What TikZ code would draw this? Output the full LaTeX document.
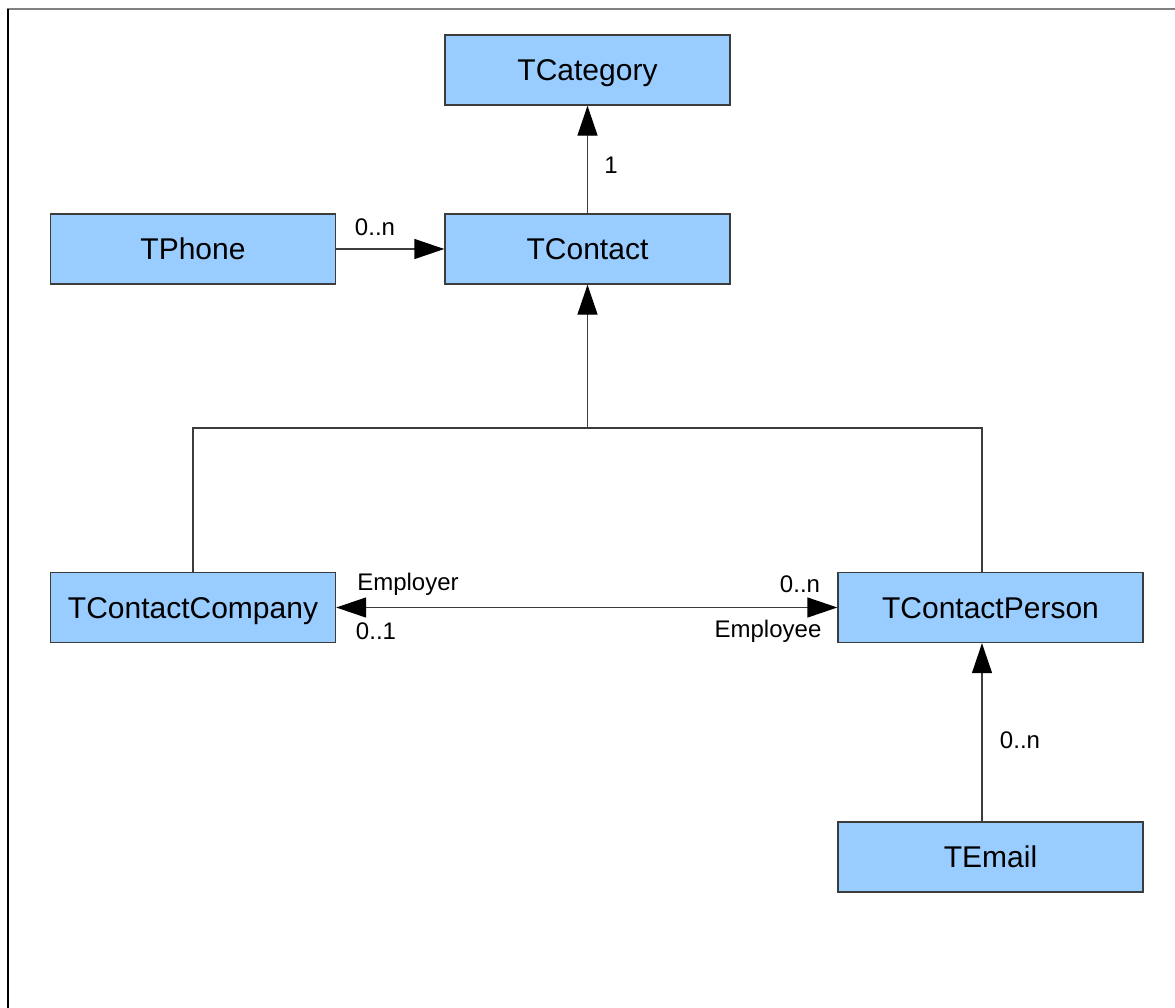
\documentclass[tikz,border=0pt]{standalone}
\usepackage{fontspec}
\setmainfont{Liberation Sans}
\usetikzlibrary{arrows.meta}
\definecolor{classblue}{HTML}{99CCFF}
\definecolor{classedge}{HTML}{3C3C3C}
\begin{document}
\begin{tikzpicture}[x=0.5pt,y=-0.5pt]
   \tikzstyle{cls}=[fill=classblue,draw=classedge,line width=0.7pt,inner sep=0pt,minimum width=142.5pt,minimum height=35pt,text height=14pt,text depth=3.3pt,font=\fontsize{15}{18}\selectfont]
   \tikzstyle{wide}=[minimum width=152.5pt]
   \tikzstyle{lbl}=[inner sep=0pt,font=\fontsize{12}{14}\selectfont]
   \tikzstyle{link}=[draw=classedge,line width=0.7pt]
   \tikzstyle{arrow}=[link,-{Triangle[length=15pt,width=10pt,black]}]
   \tikzstyle{both}=[link,{Triangle[length=15pt,width=10pt,black]}-{Triangle[length=15pt,width=10pt,black]}]
   \useasboundingbox (0,0) rectangle (1175,1008);
   % frame
   \draw [gray,line width=1pt] (7,9) -- (1175,9);
   \draw [black,line width=1pt] (8,9) -- (8,1008);
   % classes
   \node (cat) [cls] at (587.5,70) {TCategory} ;
   \node (phone) [cls] at (193,249) {TPhone} ;
   \node (contact) [cls] at (587.5,249) {TContact} ;
   \node (company) [cls] at (193,607.5) {TContactCompany} ;
   \node (person) [cls,wide] at (990.5,607.5) {TContactPerson} ;
   \node (email) [cls,wide] at (990.5,857) {TEmail} ;
   % inheritance
   \coordinate (split) at (587.5,428) ;
   \coordinate (pj) at (982,428) ;
   \path [arrow] (split) -- (contact) ;
   \path [link] (company.north) |- (split) -- (pj) -- (pj |- person.north) ;
   % associations
   \path [arrow] (contact) -- (cat) ;
   \path [arrow] (phone) -- (contact) ;
   \path [both] (person.west) -- (company.east) ;
   \path [arrow] (email.north -| pj) -- (person.south -| pj) ;
   % multiplicities and roles
   \node (one) [lbl] at (611,165) {1} ;
   \node (phonen) [lbl] at (375,227) {0..n} ;
   \node (employer) [lbl] at (408,584) {Employer} ;
   \node (compone) [lbl] at (376,631) {0..1} ;
   \node (personn) [lbl] at (800,584) {0..n} ;
   \node (employee) [lbl] at (768,631) {Employee} ;
   \node (emailn) [lbl] at (1020,740) {0..n} ;
\end{tikzpicture}
\end{document}
